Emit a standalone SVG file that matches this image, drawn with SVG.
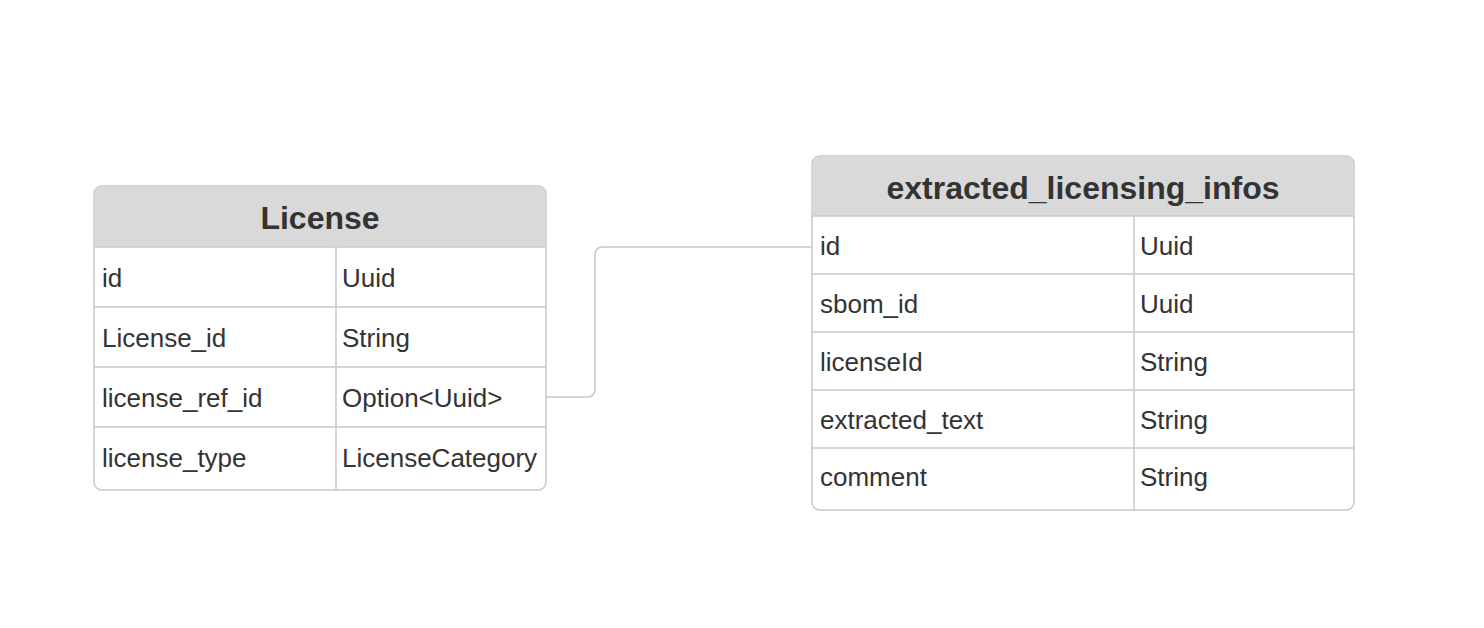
<svg xmlns="http://www.w3.org/2000/svg" width="1484" height="628" viewBox="0 0 1484 628">
<style>
.frame{fill:#ffffff;stroke:#c8c8c8;stroke-width:1.5}
.head{fill:#d9d9d9}
.line{stroke:#c8c8c8;stroke-width:1.5;fill:none}
.title{font-family:"Liberation Sans",Arial,sans-serif;font-size:32px;font-weight:bold;fill:#333333;text-anchor:middle}
.cell{font-family:"Liberation Sans",Arial,sans-serif;font-size:26px;fill:#333333}
</style>
<rect width="1484" height="628" fill="#ffffff"/>
<g id="connectors">
<path class="line" d="M546,397 H587 Q595,397 595,389 V255 Q595,247 603,247 H812"/>
</g>
<g id="License">
<rect class="frame" x="94" y="186" width="452" height="304" rx="8"/>
<path class="head" d="M102,186.75 H538 Q545.25,186.75 545.25,194 V247 H94.75 V194 Q94.75,186.75 102,186.75 Z"/>
<line class="line" x1="94" y1="247" x2="546" y2="247"/>
<line class="line" x1="94" y1="307" x2="546" y2="307"/>
<line class="line" x1="94" y1="367" x2="546" y2="367"/>
<line class="line" x1="94" y1="427" x2="546" y2="427"/>
<line class="line" x1="336" y1="247" x2="336" y2="490"/>
<text class="title" x="320" y="229">License</text>
<text class="cell" x="102" y="287">id</text>
<text class="cell" x="342" y="287">Uuid</text>
<text class="cell" x="102" y="347">License_id</text>
<text class="cell" x="342" y="347">String</text>
<text class="cell" x="102" y="407">license_ref_id</text>
<text class="cell" x="342" y="407">Option&lt;Uuid&gt;</text>
<text class="cell" x="102" y="467">license_type</text>
<text class="cell" x="342" y="467">LicenseCategory</text>
</g>
<g id="extracted_licensing_infos">
<rect class="frame" x="812" y="156" width="542" height="354" rx="8"/>
<path class="head" d="M820,156.75 H1346 Q1353.25,156.75 1353.25,164 V216 H812.75 V164 Q812.75,156.75 820,156.75 Z"/>
<line class="line" x1="812" y1="216" x2="1354" y2="216"/>
<line class="line" x1="812" y1="274" x2="1354" y2="274"/>
<line class="line" x1="812" y1="332" x2="1354" y2="332"/>
<line class="line" x1="812" y1="390" x2="1354" y2="390"/>
<line class="line" x1="812" y1="448" x2="1354" y2="448"/>
<line class="line" x1="1134" y1="216" x2="1134" y2="510"/>
<text class="title" x="1083" y="199">extracted_licensing_infos</text>
<text class="cell" x="820" y="255">id</text>
<text class="cell" x="1140" y="255">Uuid</text>
<text class="cell" x="820" y="313">sbom_id</text>
<text class="cell" x="1140" y="313">Uuid</text>
<text class="cell" x="820" y="371">licenseId</text>
<text class="cell" x="1140" y="371">String</text>
<text class="cell" x="820" y="429">extracted_text</text>
<text class="cell" x="1140" y="429">String</text>
<text class="cell" x="820" y="486">comment</text>
<text class="cell" x="1140" y="486">String</text>
</g>
</svg>
